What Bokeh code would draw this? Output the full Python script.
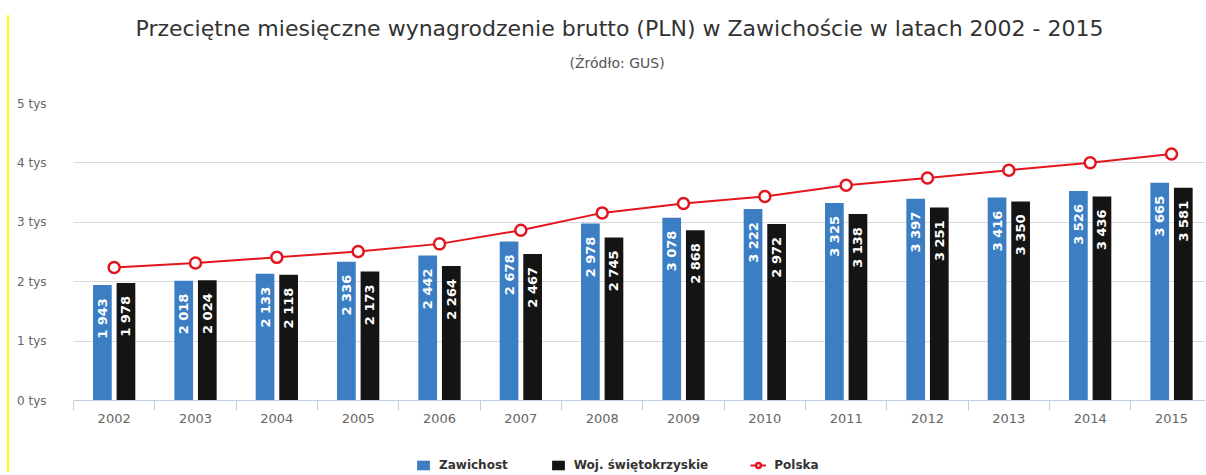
import math
import numpy as np
from bokeh.plotting import figure
from bokeh.models import (Range1d, FixedTicker, Title, Legend, LegendItem, Div,
                          ColumnDataSource, LinearAxis)
from bokeh.layouts import row, column
from bokeh.core.properties import value
from bokeh.embed import file_html
from bokeh.resources import INLINE

years = ["2002", "2003", "2004", "2005", "2006", "2007", "2008",
         "2009", "2010", "2011", "2012", "2013", "2014", "2015"]
zawichost = [1943, 2018, 2133, 2336, 2442, 2678, 2978, 3078, 3222, 3325, 3397, 3416, 3526, 3665]
swietokrzyskie = [1978, 2024, 2118, 2173, 2264, 2467, 2745, 2868, 2972, 3138, 3251, 3350, 3436, 3581]
polska = [2239.56, 2314.66, 2409.69, 2506.93, 2636.81, 2866.04, 3158.48,
          3315.38, 3435.00, 3625.21, 3744.38, 3877.43, 4003.99, 4150.86]
y_ticks = [0, 1000, 2000, 3000, 4000, 5000]
y_tick_labels = ["0 tys", "1 tys", "2 tys", "3 tys", "4 tys", "5 tys"]
series_names = ["Zawichost", "Woj. świętokrzyskie", "Polska"]

title_text = "Przeciętne miesięczne wynagrodzenie brutto (PLN) w Zawichoście w latach 2002 - 2015"
subtitle_text = "(Źródło: GUS)"

FONT = "DejaVu Sans"
BLUE = "#3b7ec3"
BLACK = "#141414"
RED = "#e3161e"
idx = np.arange(len(years), dtype=float)
off = 0.145
bw = 0.23

def fmt(v):
    return f"{int(v):,}".replace(",", " ")

src_a = ColumnDataSource(dict(x=idx - off, top=zawichost, lab=[fmt(v) for v in zawichost]))
src_b = ColumnDataSource(dict(x=idx + off, top=swietokrzyskie, lab=[fmt(v) for v in swietokrzyskie]))
src_p = ColumnDataSource(dict(x=idx, y=polska))

p = figure(width=1196, height=440, output_backend="svg", toolbar_location=None,
           x_range=Range1d(-0.5, 13.418), y_range=Range1d(0, 5000),
           min_border_left=64, min_border_right=0, min_border_top=103, min_border_bottom=40,
           title=None)
p.outline_line_color = None
p.background_fill_color = "white"
p.border_fill_color = "white"

xax = p.below[0]
yax = p.left[0]

# empty spacer between the frame and the subtitle (one tick with an empty label)
spacer = LinearAxis(ticker=FixedTicker(ticks=[0]), major_label_overrides={0: ""},
                    axis_line_color=None, major_tick_line_color=None, minor_tick_line_color=None,
                    major_tick_out=33, major_tick_in=0, minor_tick_out=0, minor_tick_in=0,
                    major_label_standoff=0, major_label_text_font_size="1px")
p.add_layout(spacer, "above")
sub = Title(text=subtitle_text, align="left", text_font=FONT, text_font_size="14px",
            text_font_style="normal", text_color="#555555", standoff=0, offset=496)
p.add_layout(sub, "above")
main = Title(text=title_text, align="left", text_font=FONT, text_font_size="22px",
             text_font_style="normal", text_color="#333333", standoff=23, offset=62)
p.add_layout(main, "above")

# grid / axes
p.xgrid.visible = False
p.ygrid.ticker = FixedTicker(ticks=y_ticks)
p.ygrid.grid_line_color = "#d9d9d9"

yax.ticker = FixedTicker(ticks=y_ticks)
yax.major_label_overrides = {t: l for t, l in zip(y_ticks, y_tick_labels)}
yax.axis_line_color = None
yax.major_tick_line_color = None
yax.minor_tick_line_color = None
yax.major_tick_out = 0
yax.major_label_standoff = 27
yax.major_label_text_font = FONT
yax.major_label_text_font_size = "12px"
yax.major_label_text_color = "#666666"

xax.ticker = FixedTicker(ticks=list(idx), minor_ticks=list(idx - 0.5) + [idx[-1] + 0.5])
xax.major_label_overrides = {float(i): y for i, y in zip(idx, years)}
xax.axis_line_color = "#c0d0e0"
xax.major_tick_line_color = None
xax.major_tick_out = 0
xax.major_tick_in = 0
xax.minor_tick_line_color = "#c0d0e0"
xax.minor_tick_out = 10
xax.minor_tick_in = 0
xax.major_label_standoff = 3
xax.major_label_text_font = FONT
xax.major_label_text_font_size = "13px"
xax.major_label_text_color = "#666666"

# bars
p.vbar(x="x", top="top", width=bw, bottom=0, source=src_a, fill_color=BLUE, line_color=None)
p.vbar(x="x", top="top", width=bw, bottom=0, source=src_b, fill_color=BLACK, line_color=None)

for s in (src_a, src_b):
    p.text(x="x", y="top", text="lab", source=s, angle=math.pi / 2,
           text_align="right", text_baseline="middle", y_offset=13,
           text_font=value(FONT), text_font_style="bold", text_font_size="13px",
           text_color="white")

# line
p.line(x="x", y="y", source=src_p, line_color=RED, line_width=2)
p.scatter(x="x", y="y", source=src_p, size=11, marker="circle",
          fill_color="white", line_color=RED, line_width=2.5)

# legend strip underneath (same glyph styles; its renderers are hidden, only the legend shows)
pl = figure(width=1196, height=32, output_backend="svg", toolbar_location=None,
            x_range=Range1d(-0.5, 13.418), y_range=Range1d(0, 5000),
            x_axis_location=None, y_axis_location=None, title=None,
            min_border_left=64, min_border_right=0, min_border_top=0, min_border_bottom=0)
pl.outline_line_color = None
pl.xgrid.visible = False
pl.ygrid.visible = False
la = pl.vbar(x="x", top="top", width=bw, bottom=0, source=src_a, fill_color=BLUE, line_color=None)
lb = pl.vbar(x="x", top="top", width=bw, bottom=0, source=src_b, fill_color=BLACK, line_color=None)
ll = pl.line(x="x", y="y", source=src_p, line_color=RED, line_width=2)
lc = pl.scatter(x="x", y="y", source=src_p, size=11, marker="circle",
                fill_color="white", line_color=RED, line_width=2.5)
for r in (la, lb, ll, lc):
    r.visible = False
legend = Legend(items=[LegendItem(label=series_names[0], renderers=[la]),
                       LegendItem(label=series_names[1], renderers=[lb]),
                       LegendItem(label=series_names[2], renderers=[ll, lc])],
                orientation="horizontal", location=(342, 0),
                label_text_font=FONT, label_text_font_size="12px", label_text_font_style="bold",
                label_text_color="#333333", glyph_width=16, glyph_height=12,
                spacing=42, label_standoff=8, padding=3, margin=0,
                inactive_fill_alpha=0,
                border_line_color=None, background_fill_alpha=0)
pl.add_layout(legend, "center")

bar = Div(width=2, height=457, margin=(15, 0, 0, 7),
          styles={"background-color": "#ffff00"})
layout = row(bar, column(p, pl, spacing=0), spacing=0)

open("out.html", "w").write(file_html(layout, INLINE))
